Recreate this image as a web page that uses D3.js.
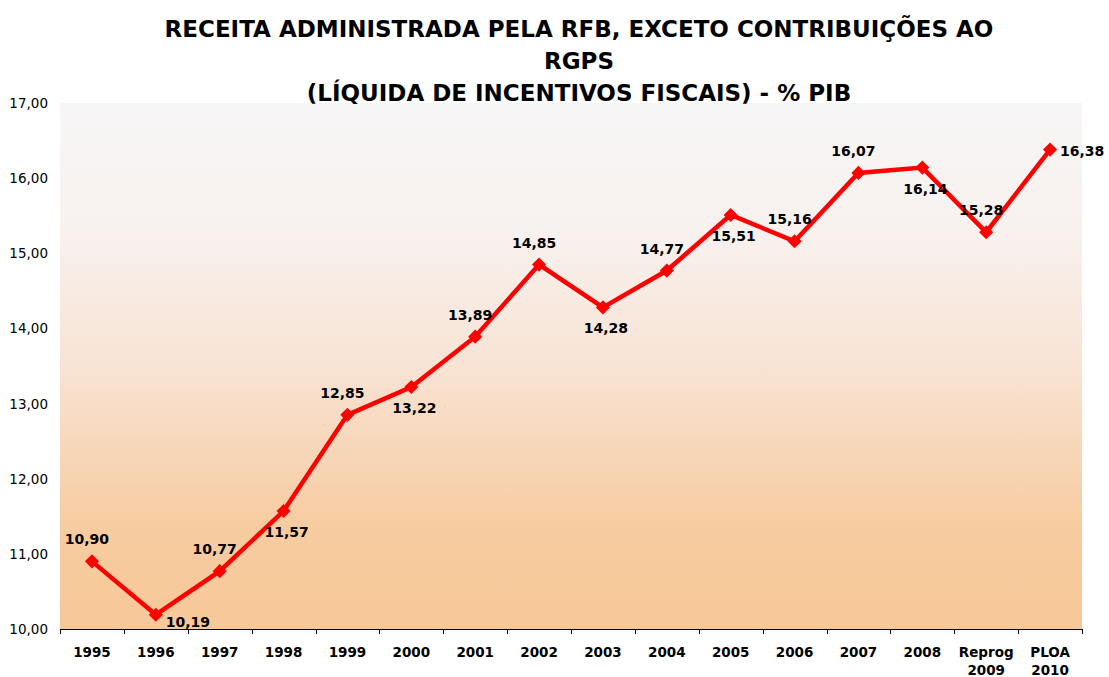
<!DOCTYPE html>
<html><head><meta charset="utf-8">
<script src="https://cdn.jsdelivr.net/npm/d3@7"></script>
<style>body{margin:0;background:#fff}svg{display:block}text{font-family:"DejaVu Sans",Verdana,sans-serif}</style>
</head><body>
<svg id="c" width="1109" height="677"></svg>
<script>
const categories = ["1995","1996","1997","1998","1999","2000","2001","2002","2003","2004","2005","2006","2007","2008","Reprog\n2009","PLOA\n2010"];
const values = [10.90,10.19,10.77,11.57,12.85,13.22,13.89,14.85,14.28,14.77,15.51,15.16,16.07,16.14,15.28,16.38];
const labelPlacement = ["above","rightbelow","above","below","above","below","above","above","below","above","below","above","above","below","above","right"];
const yTicks = [10,11,12,13,14,15,16,17];
const titleLines = ["RECEITA ADMINISTRADA PELA RFB, EXCETO CONTRIBUIÇÕES AO","RGPS","(LÍQUIDA DE INCENTIVOS FISCAIS) - % PIB"];

const svg = d3.select("#c");
const m = {left:60, right:1082, top:103, bottom:629};
const x = d3.scaleBand().domain(categories).range([m.left, m.right]);
const y = d3.scaleLinear().domain([10,17]).range([m.bottom, m.top]);
const fmt = v => d3.format(".2f")(v).replace(".", ",");

const defs = svg.append("defs");
const g = defs.append("linearGradient").attr("id","bg").attr("x1",0).attr("y1",0).attr("x2",0).attr("y2",1);
g.append("stop").attr("offset","0%").attr("stop-color","#f7f6f6");
g.append("stop").attr("offset","25%").attr("stop-color","#f8f1ee");
g.append("stop").attr("offset","50%").attr("stop-color","#f8e3d4");
g.append("stop").attr("offset","80%").attr("stop-color","#f7cca1");
g.append("stop").attr("offset","100%").attr("stop-color","#f7c898");
svg.append("rect").attr("x",m.left).attr("y",m.top).attr("width",m.right-m.left).attr("height",m.bottom-m.top).attr("fill","url(#bg)");

// title
svg.append("g").selectAll("text").data(titleLines).join("text")
  .attr("x",579).attr("y",(d,i)=>37+i*32).attr("text-anchor","middle")
  .attr("font-size",23).attr("font-weight","bold").attr("fill","#000").text(d=>d);

// y axis labels
svg.append("g").selectAll("text").data(yTicks).join("text")
  .attr("x",48).attr("y",d=>y(d)+5).attr("text-anchor","end")
  .attr("font-size",13.5).attr("fill","#000").text(d=>fmt(d));

// x axis
const xa = svg.append("g");
xa.append("line").attr("x1",m.left).attr("x2",m.right).attr("y1",m.bottom+0.5).attr("y2",m.bottom+0.5).attr("stroke","#000");
const bounds = categories.map(c=>x(c)).concat([m.right]);
xa.selectAll("line.t").data(bounds).join("line").attr("class","t")
  .attr("x1",d=>Math.round(d)+0.5).attr("x2",d=>Math.round(d)+0.5).attr("y1",m.bottom).attr("y2",m.bottom+5).attr("stroke","#000");
categories.forEach(c=>{
  const lines = c.split("\n");
  const t = xa.append("text").attr("x",x(c)+x.bandwidth()/2).attr("y",657).attr("text-anchor","middle")
    .attr("font-size",13.5).attr("font-weight","bold").attr("fill","#000");
  lines.forEach((l,i)=>t.append("tspan").attr("x",x(c)+x.bandwidth()/2).attr("dy",i?18:0).text(l));
});

// line
const pts = values.map((v,i)=>[x(categories[i])+x.bandwidth()/2, y(v)]);
svg.append("path").attr("d",d3.line()(pts)).attr("fill","none").attr("stroke","#ff0000").attr("stroke-width",4.5).attr("stroke-linejoin","miter");
svg.append("g").selectAll("path").data(pts).join("path")
  .attr("d",d3.symbol(d3.symbolSquare, 100)).attr("transform",d=>`translate(${d[0]},${d[1]}) rotate(45)`)
  .attr("fill","#ff0000");

// labels
const off = {above:[-5,-17], below:[3,26], right:[10,6], rightbelow:[10,12]};
svg.append("g").selectAll("text").data(values).join("text")
  .attr("x",(d,i)=>pts[i][0] + off[labelPlacement[i]][0])
  .attr("y",(d,i)=>pts[i][1] + off[labelPlacement[i]][1])
  .attr("text-anchor",(d,i)=>labelPlacement[i].startsWith("right")?"start":"middle")
  .attr("font-size",14).attr("font-weight","bold").attr("fill","#000").text(d=>fmt(d));
</script>
</body></html>
